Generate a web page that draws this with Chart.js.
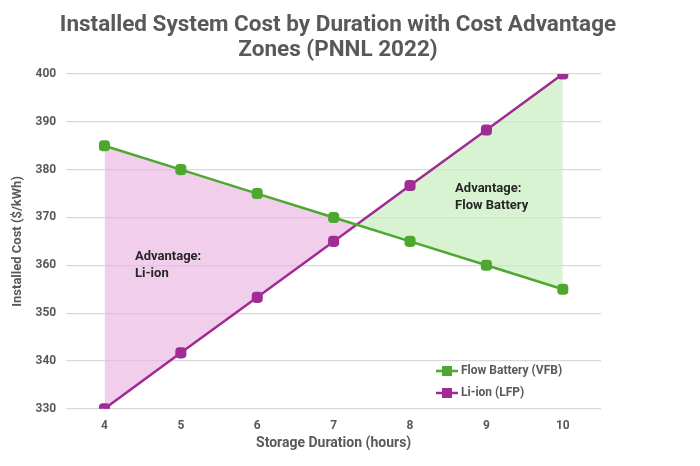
<!DOCTYPE html>
<html>
<head>
<meta charset="utf-8">
<script src="https://cdn.jsdelivr.net/npm/chart.js@4"></script>
<style>
  html, body { margin: 0; padding: 0; background: #fff; }
  #wrap { width: 700px; height: 466px; position: relative; }
  #title {
    position: absolute; left: 0; top: 11px; width: 676px; text-align: center;
    font: bold 22.5px/25px Roboto, "Liberation Sans", sans-serif; color: #595959;
  }
</style>
</head>
<body>
<div id="wrap">
  <canvas id="chart" width="700" height="466"></canvas>
  <div id="title">Installed System Cost by Duration with Cost Advantage<br>Zones (PNNL 2022)</div>
</div>
<script>
const durations = ['4', '5', '6', '7', '8', '9', '10'];
const flowCost = [385, 380, 375, 370, 365, 360, 355];
const liionCost = [330, 341.7, 353.3, 365, 376.7, 388.3, 400];
const yTicks = [330, 340, 350, 360, 370, 380, 390, 400];
const seriesNames = ['Flow Battery (VFB)', 'Li-ion (LFP)'];
const zoneLabels = [
  { lines: ['Advantage:', 'Li-ion'], x: 4.4, y: 361.8 },
  { lines: ['Advantage:', 'Flow Battery'], x: 8.59, y: 376 }
];

const green = '#4ea72e';
const purple = '#a02b93';
const grey = '#595959';
const font = 'Roboto, "Liberation Sans", sans-serif';

// zone text + legend inside the plot
const extras = {
  id: 'extras',
  afterDatasetsDraw(chart) {
    const { ctx, scales } = chart;
    ctx.save();
    ctx.font = 'bold 13px ' + font;
    ctx.fillStyle = '#262626';
    ctx.textBaseline = 'middle';
    zoneLabels.forEach(z => {
      const px = scales.x.getPixelForValue(z.x - 4);
      const py = scales.y.getPixelForValue(z.y);
      z.lines.forEach((l, i) => ctx.fillText(l, px, py + i * 17));
    });

    const colors = [green, purple];
    seriesNames.forEach((name, i) => {
      const y = 371 + i * 22;
      ctx.strokeStyle = colors[i];
      ctx.lineWidth = 2.5;
      ctx.beginPath();
      ctx.moveTo(436, y);
      ctx.lineTo(458, y);
      ctx.stroke();
      ctx.fillStyle = colors[i];
      ctx.fillRect(442, y - 5, 10, 10);
      ctx.fillStyle = grey;
      ctx.font = 'bold 12px ' + font;
      ctx.fillText(name, 461, y);
    });
    ctx.restore();
  }
};

new Chart(document.getElementById('chart'), {
  type: 'line',
  data: {
    labels: durations,
    datasets: [
      {
        label: seriesNames[0],
        data: flowCost,
        borderColor: green,
        backgroundColor: green,
        borderWidth: 2.5,
        pointStyle: 'rectRounded',
        pointRadius: 5,
        pointHoverRadius: 5,
        fill: { target: 1, above: 'rgba(234, 180, 226, 0.65)', below: 'rgba(200, 238, 190, 0.7)' }
      },
      {
        label: seriesNames[1],
        data: liionCost,
        borderColor: purple,
        backgroundColor: purple,
        borderWidth: 2.5,
        pointStyle: 'rectRounded',
        pointRadius: 5,
        pointHoverRadius: 5,
        fill: false
      }
    ]
  },
  options: {
    responsive: false,
    animation: false,
    layout: { padding: { left: 10, right: 99, top: 74, bottom: 10 } },
    plugins: {
      legend: { display: false },
      tooltip: { enabled: false },
      filler: { drawTime: 'beforeDatasetsDraw' }
    },
    scales: {
      x: {
        offset: true,
        grid: { display: false },
        border: { display: false },
        ticks: { color: grey, font: { family: font, size: 12, weight: 'bold' }, padding: 2 },
        title: {
          display: true,
          text: 'Storage Duration (hours)',
          color: grey,
          font: { family: font, size: 14, weight: 'bold' },
          padding: { top: 0 }
        }
      },
      y: {
        min: 330,
        max: 400,
        afterBuildTicks(axis) { axis.ticks = yTicks.map(v => ({ value: v })); },
        grid: { color: '#d9d9d9', lineWidth: 1.2, drawTicks: false },
        border: { display: false },
        ticks: { color: grey, font: { family: font, size: 12, weight: 'bold' }, padding: 10 },
        title: {
          display: true,
          text: 'Installed Cost ($/kWh)',
          color: grey,
          font: { family: font, size: 13, weight: 'bold' },
          padding: { top: 0, bottom: 0 }
        }
      }
    }
  },
  plugins: [extras]
});
</script>
</body>
</html>
